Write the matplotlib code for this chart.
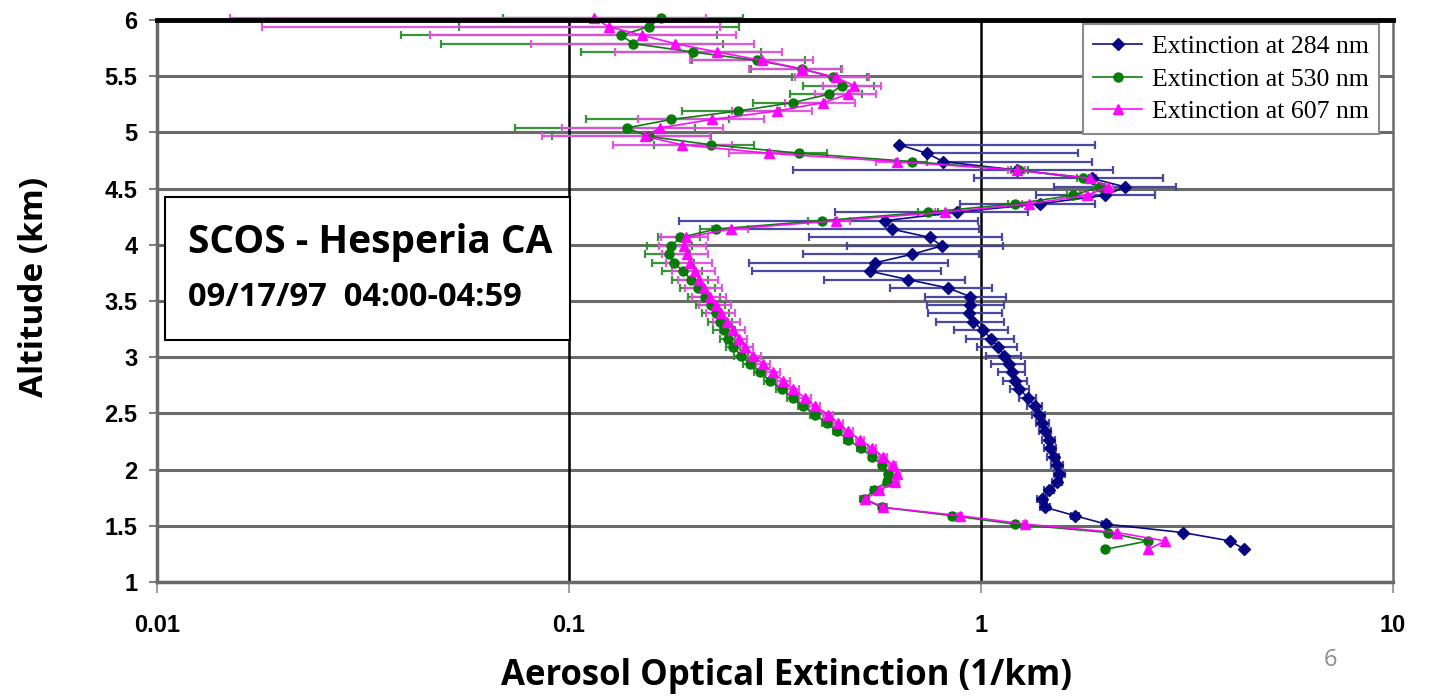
import matplotlib.pyplot as plt
from matplotlib.patches import Rectangle
import numpy as np

# altitude levels of the lidar profile (km)
alt = [1.29, 1.365, 1.44, 1.515, 1.59, 1.665, 1.74, 1.815, 1.89, 1.965,
       2.04, 2.115, 2.19, 2.265, 2.34, 2.415, 2.49, 2.565, 2.64, 2.715,
       2.79, 2.865, 2.94, 3.015, 3.09, 3.165, 3.24, 3.315, 3.39, 3.465,
       3.54, 3.615, 3.69, 3.765, 3.84, 3.915, 3.99, 4.065, 4.14, 4.215,
       4.29, 4.365, 4.44, 4.515, 4.59, 4.665, 4.74, 4.815, 4.89, 4.965,
       5.04, 5.115, 5.19, 5.265, 5.34, 5.415, 5.49, 5.565, 5.64, 5.715,
       5.79, 5.865, 5.94, 6.015]

# extinction at 284 nm (1/km), only up to ~4.9 km
ext_284 = [4.36, 4.03, 3.09, 2.01, 1.69, 1.43, 1.41, 1.46, 1.53, 1.55,
           1.53, 1.50, 1.47, 1.46, 1.43, 1.41, 1.38, 1.35, 1.30, 1.24,
           1.21, 1.19, 1.17, 1.14, 1.10, 1.06, 1.01, 0.958, 0.935, 0.94,
           0.94, 0.833, 0.666, 0.538, 0.553, 0.679, 0.803, 0.752, 0.607, 0.585,
           0.873, 1.39, 2.00, 2.24, 1.86, 1.22, 0.81, 0.738, 0.633]
err_284 = [0.04, 0.04, 0.04, 0.04, 0.04, 0.04, 0.04, 0.04, 0.04, 0.05,
           0.05, 0.05, 0.05, 0.05, 0.05, 0.05, 0.05, 0.055, 0.06, 0.065,
           0.08, 0.09, 0.11, 0.11, 0.12, 0.14, 0.15, 0.18, 0.19, 0.20,
           0.21, 0.23, 0.25, 0.26, 0.28, 0.31, 0.33, 0.37, 0.38, 0.40,
           0.43, 0.50, 0.64, 0.74, 0.90, 0.87, 1.05, 0.98, 1.26]

# extinction at 530 nm
ext_530 = [2.00, 2.54, 2.03, 1.21, 0.85, 0.574, 0.519, 0.55, 0.59, 0.595,
           0.575, 0.545, 0.51, 0.476, 0.447, 0.422, 0.395, 0.370, 0.349, 0.328,
           0.308, 0.291, 0.275, 0.262, 0.250, 0.243, 0.238, 0.233, 0.227, 0.221,
           0.214, 0.206, 0.198, 0.189, 0.180, 0.175, 0.177, 0.186, 0.228, 0.411,
           0.745, 1.21, 1.675, 1.94, 1.766, 1.24, 0.681, 0.362, 0.221, 0.156,
           0.138, 0.177, 0.257, 0.349, 0.428, 0.459, 0.438, 0.367, 0.286, 0.200,
           0.143, 0.134, 0.156, 0.167]
err_530 = [0.01, 0.01, 0.01, 0.01, 0.01, 0.01, 0.01, 0.01, 0.01, 0.01,
           0.01, 0.01, 0.01, 0.01, 0.01, 0.01, 0.01, 0.01, 0.01, 0.01,
           0.01, 0.01, 0.01, 0.01, 0.01, 0.01, 0.015, 0.016, 0.017, 0.018,
           0.019, 0.02, 0.02, 0.021, 0.021, 0.022, 0.022, 0.022, 0.02, 0.03,
           0.04, 0.05, 0.06, 0.06, 0.06, 0.06, 0.06, 0.06, 0.06, 0.065,
           0.064, 0.067, 0.069, 0.07, 0.085, 0.09, 0.09, 0.09, 0.087, 0.093,
           0.094, 0.095, 0.102, 0.098]

# extinction at 607 nm
ext_607 = [2.54, 2.80, 2.14, 1.28, 0.889, 0.578, 0.524, 0.567, 0.620, 0.624,
           0.610, 0.578, 0.545, 0.509, 0.476, 0.450, 0.426, 0.395, 0.374, 0.350,
           0.331, 0.313, 0.296, 0.280, 0.268, 0.258, 0.250, 0.242, 0.234, 0.227,
           0.220, 0.213, 0.207, 0.202, 0.197, 0.193, 0.190, 0.192, 0.247, 0.445,
           0.818, 1.31, 1.81, 2.03, 1.84, 1.22, 0.624, 0.305, 0.188, 0.153,
           0.166, 0.222, 0.319, 0.414, 0.476, 0.493, 0.444, 0.367, 0.294, 0.229,
           0.181, 0.150, 0.125, 0.115]
err_607 = [0.012, 0.012, 0.012, 0.012, 0.012, 0.012, 0.012, 0.012, 0.012, 0.012,
           0.012, 0.012, 0.012, 0.012, 0.012, 0.012, 0.012, 0.012, 0.012, 0.012,
           0.012, 0.012, 0.012, 0.012, 0.012, 0.012, 0.017, 0.018, 0.019, 0.02,
           0.021, 0.022, 0.023, 0.024, 0.025, 0.025, 0.025, 0.025, 0.025, 0.035,
           0.045, 0.055, 0.06, 0.06, 0.06, 0.06, 0.067, 0.06, 0.06, 0.067,
           0.07, 0.075, 0.07, 0.08, 0.08, 0.08, 0.09, 0.093, 0.097, 0.10,
           0.10, 0.104, 0.107, 0.10]

series = [
    ("Extinction at 284 nm", ext_284, err_284, "#000080", "D", 6, "#4040a0"),
    ("Extinction at 530 nm", ext_530, err_530, "#007800", "o", 6.5, "#2f8f2f"),
    ("Extinction at 607 nm", ext_607, err_607, "#ff00ff", "^", 7.5, "#e050e0"),
]

fig = plt.figure(figsize=(14.33, 6.97), dpi=100)
ax = fig.add_axes([157 / 1433, 1 - 582 / 697, 1236 / 1433, 562 / 697])

handles = []
labels = []
for label, ext, err, color, marker, ms, ecolor in series:
    x = np.array(ext)
    e = np.array(err)
    # no left whisker where the bar would cross zero on the log axis
    lower = np.where(x - e > 0, e, 0.0)
    y = alt[:len(ext)]
    cont = ax.errorbar(x, y, xerr=[lower, e], color=color, lw=1.2,
                       marker=marker, ms=ms, mec=color, mfc=color,
                       ecolor=ecolor, elinewidth=1.6, capsize=3,
                       capthick=1.6, alpha=0.95, clip_on=False)
    handles.append(cont[0])
    labels.append(label)

ax.set_xscale("log")
ax.set_xlim(0.01, 10)
ax.set_ylim(1, 6)
ax.set_xticks([0.01, 0.1, 1, 10])
ax.set_xticklabels(["0.01", "0.1", "1", "10"])
ax.xaxis.set_minor_locator(plt.NullLocator())
ax.set_yticks([1, 1.5, 2, 2.5, 3, 3.5, 4, 4.5, 5, 5.5, 6])
ax.set_yticklabels(["1", "1.5", "2", "2.5", "3", "3.5", "4", "4.5", "5", "5.5", "6"])

for lab in ax.get_xticklabels() + ax.get_yticklabels():
    lab.set_fontfamily("Liberation Sans")
    lab.set_fontweight("bold")
    lab.set_fontsize(17)
ax.tick_params(axis="y", length=6, width=1.5, color="#808080", pad=8)
ax.tick_params(axis="x", length=8, width=1.5, color="#a0a0a0", pad=15)

ax.set_axisbelow(True)
ax.yaxis.grid(True, color="#6a6a6a", lw=2.2)
ax.axvline(0.1, color="black", lw=1.8, zorder=1.5)
ax.axvline(1, color="black", lw=1.8, zorder=1.5)

ax.spines["top"].set_color("black")
ax.spines["top"].set_linewidth(3.5)
ax.spines["bottom"].set_color("#6a6a6a")
ax.spines["bottom"].set_linewidth(2.5)
ax.spines["left"].set_color("#6a6a6a")
ax.spines["left"].set_linewidth(2.5)
ax.spines["right"].set_color("#6a6a6a")
ax.spines["right"].set_linewidth(1.8)

leg = ax.legend(handles, labels, loc="upper right", bbox_to_anchor=(0.989, 0.992),
                borderaxespad=0, fancybox=False, edgecolor="#8a8a8a",
                framealpha=1, handlelength=1.9, handletextpad=0.4,
                labelspacing=0.38, borderpad=0.4,
                prop={"family": "Liberation Serif", "size": 18.5})
leg.get_frame().set_linewidth(1.5)

# site / time box
fig.add_artist(Rectangle((165 / 1433, 1 - 340 / 697), 405 / 1433, 143 / 697,
                         transform=fig.transFigure, facecolor="white",
                         edgecolor="black", lw=1.5, zorder=3))
fig.text(188 / 1433, 1 - 243 / 697, "SCOS - Hesperia CA", family="Open Sans",
         weight="bold", fontsize=28, va="center", ha="left", zorder=4)
fig.text(188 / 1433, 1 - 298 / 697, "09/17/97  04:00-04:59", family="Open Sans",
         weight="bold", fontsize=23.5, va="center", ha="left", zorder=4)

fig.text(35 / 1433, 1 - 287 / 697, "Altitude (km)", family="Open Sans",
         weight="bold", fontsize=24, rotation=90, va="center", ha="center")
fig.text(787 / 1433, 1 - 676 / 697, "Aerosol Optical Extinction (1/km)",
         family="Open Sans", weight="bold", fontsize=25, va="center", ha="center")
fig.text(1330 / 1433, 1 - 660 / 697, "6", family="Open Sans", color="#8c8c8c",
         fontsize=17, va="center", ha="center")

fig.savefig("out.png", dpi=100)
